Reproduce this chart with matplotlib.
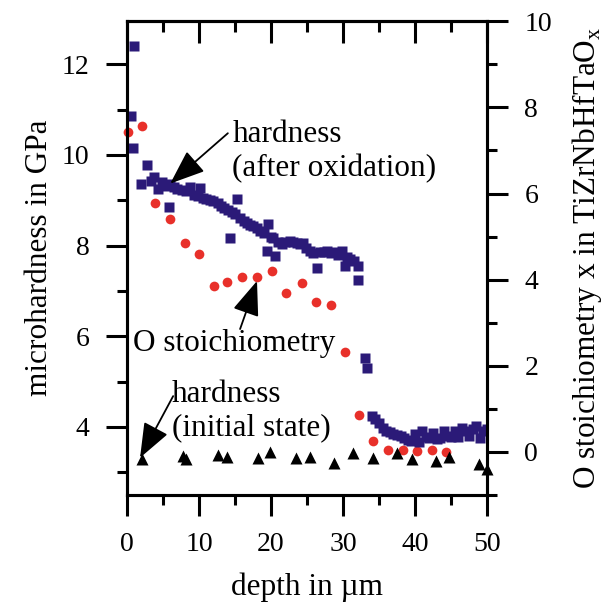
import matplotlib
matplotlib.use("Agg")
import matplotlib.pyplot as plt
from matplotlib.ticker import MultipleLocator

plt.rcParams['font.family'] = ['Liberation Serif', 'DejaVu Serif']
plt.rcParams['mathtext.fontset'] = 'custom'
plt.rcParams['mathtext.rm'] = 'Liberation Serif'

# hardness after oxidation (GPa, left axis)
ox_depth = [0.6, 0.8, 1.0, 1.9, 2.7, 3.3, 3.7, 4.3, 4.9, 5.4, 5.8, 6.0, 6.5, 7.0,
            7.6, 8.2, 8.8, 9.3, 9.8, 10.1, 10.5, 11.0, 11.5, 12.0, 12.6, 13.1,
            13.5, 14.0, 14.3, 14.6, 15.0, 15.3, 15.7, 16.2, 16.7, 17.1, 17.5,
            18.0, 18.5, 19.0, 19.4, 19.6, 20.0, 20.3, 20.6, 21.0, 21.5, 22.0,
            22.6, 23.1, 23.6, 24.0, 24.4, 24.9, 25.4, 25.8, 26.4, 26.8, 27.3,
            27.8, 28.3, 28.8, 29.3, 29.9, 30.3, 30.6, 31.0, 31.5, 32.1, 32.1,
            33.1, 33.3, 34.0, 34.5, 35.0, 35.5, 36.0, 36.5, 37.0, 37.5, 38.0,
            38.5, 39.0, 39.5, 40.0, 40.5, 41.0, 41.5, 42.0, 42.5, 43.0, 43.5,
            44.0, 44.5, 45.0, 45.5, 46.0, 46.5, 47.0, 47.5, 48.0, 48.5, 49.0,
            49.5, 50.0]
ox_hard = [10.85, 10.15, 12.4, 9.37, 9.78, 9.42, 9.52, 9.25, 9.40, 9.32, 8.85,
           9.35, 9.30, 9.25, 9.22, 9.20, 9.30, 9.12, 9.10, 9.28, 9.05, 9.03,
           9.00, 8.98, 8.95, 8.88, 8.82, 8.78, 8.16, 8.74, 8.69, 9.02, 8.60,
           8.55, 8.49, 8.45, 8.43, 8.38, 8.32, 8.28, 7.88, 8.47, 8.20, 8.16,
           7.77, 8.08, 8.03, 8.08, 8.10, 8.08, 8.05, 8.03, 8.05, 7.95, 7.88,
           7.83, 7.50, 7.85, 7.85, 7.88, 7.83, 7.85, 7.80, 7.88, 7.55, 7.75,
           7.70, 7.65, 7.55, 7.24, 5.52, 5.30, 4.24, 4.18, 4.08, 3.98, 3.92,
           3.88, 3.85, 3.82, 3.80, 3.76, 3.72, 3.70, 3.85, 3.67, 3.90, 3.78,
           3.76, 3.86, 3.74, 3.76, 3.90, 3.80, 3.78, 3.92, 3.78, 3.98, 3.92,
           3.80, 3.95, 4.02, 3.76, 3.90, 3.95]

# hardness initial state (GPa, left axis)
init_depth = [2.1, 7.8, 8.2, 12.6, 13.9, 18.2, 19.9, 23.5, 25.4, 28.75, 31.4,
              34.2, 37.5, 39.6, 42.9, 44.7, 48.9, 50.0]
init_hard = [3.30, 3.36, 3.30, 3.38, 3.34, 3.32, 3.45, 3.32, 3.34, 3.21, 3.43,
             3.32, 3.43, 3.30, 3.25, 3.34, 3.19, 3.07]

# O stoichiometry x (right axis)
o_depth = [0.15, 2.1, 3.9, 6.0, 8.1, 10.0, 12.1, 13.9, 16.0, 18.1, 20.1, 22.1,
           24.3, 26.3, 28.3, 30.3, 32.2, 34.2, 36.3, 38.3, 40.3, 42.4, 44.3]
o_x = [7.42, 7.56, 5.79, 5.40, 4.84, 4.60, 3.86, 3.95, 4.07, 4.05, 4.21, 3.70,
       3.93, 3.47, 3.42, 2.33, 0.86, 0.26, 0.05, 0.05, 0.02, 0.05, 0.0]

fig = plt.figure(figsize=(6.11, 6.08), dpi=100)
ax = fig.add_axes([0.208, 0.186, 0.589, 0.779])
ax2 = ax.twinx()

ax2.plot(o_depth, o_x, 'o', color='#e8302a', ms=7, mec='none', clip_on=False)
ax.plot(ox_depth, ox_hard, 's', color='#2b1a78', ms=7, mec='none')
ax.plot(init_depth, init_hard, '^', color='black', ms=8, mec='none', clip_on=False)
ax.set_zorder(ax2.get_zorder() + 1)
ax.patch.set_visible(False)

ax.set_xlim(0, 50)
ax.set_ylim(2.5, 12.95)
ax2.set_ylim(-1, 10)

ax.xaxis.set_major_locator(MultipleLocator(10))
ax.xaxis.set_minor_locator(MultipleLocator(5))
ax.yaxis.set_major_locator(MultipleLocator(2))
ax.yaxis.set_minor_locator(MultipleLocator(1))
ax2.yaxis.set_major_locator(MultipleLocator(2))
ax2.yaxis.set_minor_locator(MultipleLocator(1))

for a in (ax, ax2):
    for s in a.spines.values():
        s.set_linewidth(2.2)
    a.tick_params(which='major', direction='out', length=15, width=2.2,
                  labelsize=20, pad=12)
    a.tick_params(which='minor', direction='out', length=7, width=2.2)

top = ax.secondary_xaxis('top')
top.xaxis.set_major_locator(MultipleLocator(10))
top.xaxis.set_minor_locator(MultipleLocator(5))
top.tick_params(which='major', direction='in', length=16, width=2.2, labeltop=False)
top.tick_params(which='minor', direction='in', length=8, width=2.2)
top.spines['top'].set_linewidth(2.2)

ax.set_xlabel('depth in µm', fontsize=22.5, labelpad=11)
ax.set_ylabel('microhardness in GPa', fontsize=22.5, labelpad=6)
ax2.set_ylabel(r'O stoichiometry x in TiZrNbHfTaO$_{\mathrm{x}}$', fontsize=22.5,
               labelpad=13)

arrow = dict(arrowstyle='-|>,head_length=0.9,head_width=0.35', color='black',
             lw=1.3, shrinkA=0, shrinkB=0, mutation_scale=24)
ax.annotate('', xy=(6.0, 9.37), xytext=(14.0, 10.48), arrowprops=arrow)
ax.text(14.6, 10.08, 'hardness\n(after oxidation)', fontsize=22.5, ha='left', va='center')
ax.annotate('', xy=(18.05, 7.22), xytext=(15.7, 6.16), arrowprops=arrow)
ax.text(0.8, 5.83, 'O stoichiometry', fontsize=22.5, ha='left', va='center')
ax.annotate('', xy=(1.8, 3.32), xytext=(6.4, 4.68), arrowprops=arrow)
ax.text(6.25, 4.35, 'hardness\n(initial state)', fontsize=22.5, ha='left', va='center')

fig.savefig('out.png', dpi=100)
